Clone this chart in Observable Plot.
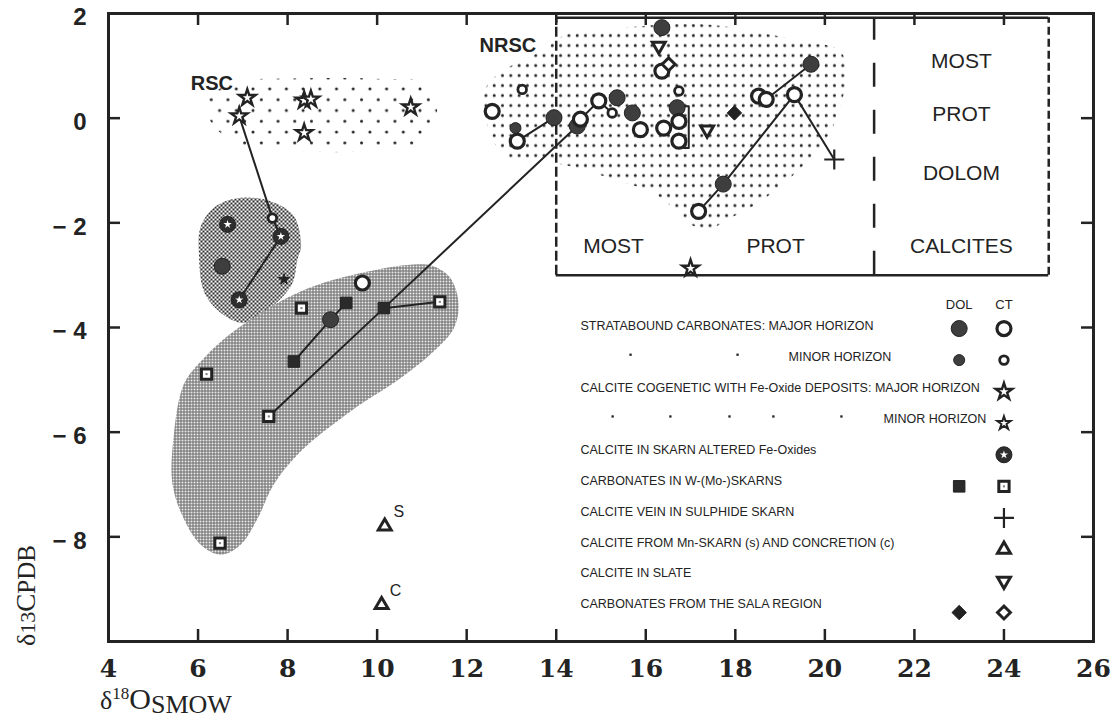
<!DOCTYPE html>
<html><head><meta charset="utf-8">
<script src="https://cdn.jsdelivr.net/npm/d3@7"></script>
<script src="https://cdn.jsdelivr.net/npm/@observablehq/plot@0.6"></script>
<style>
body{margin:0;background:#fff;}
#chart{width:1119px;height:727px;}
</style></head><body><div id="chart"></div>
<script>
// ---------- axes ----------
const xTickValues = [4,6,8,10,12,14,16,18,20,22,24,26];
const yTickValues = [2,0,-2,-4,-6,-8];
const yTickLabels = ["2","0","− 2","− 4","− 6","− 8"];

// ---------- data points (δ18O SMOW, δ13C PDB) ----------
const dolMajorX = [6.54, 8.96, 13.95, 14.47, 15.36, 15.70, 16.36, 16.70, 17.73, 19.69];
const dolMajorY = [-2.83, -3.85, 0.01, -0.15, 0.39, 0.10, 1.73, 0.20, -1.26, 1.03];
const dolMinorX = [13.09];
const dolMinorY = [-0.19];
const ctMajorX = [12.57, 13.13, 14.54, 14.95, 15.88, 16.36, 16.40, 16.74, 16.74, 18.52, 18.69, 19.32, 17.18, 9.67];
const ctMajorY = [0.13, -0.44, -0.02, 0.33, -0.22, 0.90, -0.19, -0.06, -0.44, 0.42, 0.36, 0.45, -1.78, -3.15];
const ctMinorX = [13.24, 15.25, 16.74, 7.66];
const ctMinorY = [0.55, 0.10, 0.52, -1.91];
const starMajorX = [7.10, 6.92, 8.37, 8.52, 8.37, 10.75, 17.0];
const starMajorY = [0.39, 0.04, 0.34, 0.36, -0.28, 0.21, -2.87];
const starFilledX = [7.92];
const starFilledY = [-3.08];
const skarnX = [6.66, 7.85, 6.92];
const skarnY = [-2.03, -2.26, -3.47];
const sqDolX = [8.14, 9.31, 10.15];
const sqDolY = [-4.65, -3.53, -3.63];
const sqCtX = [8.31, 6.19, 7.58, 11.40, 6.49];
const sqCtY = [-3.63, -4.89, -5.70, -3.51, -8.12];
const plusX = [20.21];
const plusY = [-0.79];
const triUpX = [10.17, 10.10];
const triUpY = [-7.80, -9.30];
const triUpLabels = ["S", "C"];
const triDownX = [16.29, 17.37];
const triDownY = [1.38, -0.22];
const diaDolX = [17.98];
const diaDolY = [0.10];
const diaCtX = [16.51];
const diaCtY = [1.03];

// tie lines between samples
const tieLinesX = [[6.92,7.66,7.85,6.92],[8.14,8.96,9.31],[7.58,10.15,14.47],[10.15,11.40],[13.13,13.95],[14.54,14.95,15.25],[18.69,19.69],[17.18,17.73,19.32,20.21],[16.85,16.96,16.96,16.85]];
const tieLinesY = [[0.04,-1.91,-2.26,-3.47],[-4.65,-3.85,-3.53],[-5.70,-3.63,-0.15],[-3.63,-3.51],[-0.44,0.01],[-0.02,0.33,0.10],[0.36,1.03],[-1.78,-1.26,0.45,-0.79],[0.23,0.23,-0.57,-0.57]];

// ---------- shaded fields ----------
const rscFieldX = [6.17,6.40,6.96,8.29,10.08,11.09,11.33,11.20,10.08,8.29,7.29,6.69,6.28];
const rscFieldY = [0.33,0.52,0.71,0.76,0.75,0.67,0.23,-0.34,-0.61,-0.63,-0.57,-0.40,-0.06];
const blobFieldX = [6.96,7.63,8.14,8.30,8.22,8.10,7.63,7.05,6.62,6.15,6.02,6.06,6.40];
const blobFieldY = [-1.52,-1.59,-1.87,-2.45,-2.70,-3.17,-3.62,-3.91,-3.79,-3.35,-2.60,-2.07,-1.68];
const skarnFieldX = [11.26,11.64,11.82,11.71,11.26,10.52,9.41,8.29,7.69,7.33,6.95,6.51,6.06,5.68,5.43,5.46,5.68,6.06,6.80,8.29,9.79,10.91];
const skarnFieldY = [-2.83,-3.06,-3.56,-4.02,-4.46,-4.97,-5.60,-6.37,-7.00,-7.65,-8.15,-8.34,-8.15,-7.65,-7.00,-6.04,-5.09,-4.65,-4.07,-3.31,-2.93,-2.79];
const nrscFieldX = [12.38,12.47,12.91,13.65,14.25,15.37,17.22,18.72,19.45,20.35,20.46,20.13,19.45,18.56,17.89,17.45,17.00,16.62,16.11,15.37,14.70,14.10,13.14,12.76,12.53];
const nrscFieldY = [0.33,0.65,0.96,1.28,1.61,1.72,1.80,1.61,1.47,1.28,0.71,-0.25,-0.96,-1.59,-1.91,-2.10,-2.03,-1.72,-1.40,-1.20,-1.01,-0.88,-0.82,-0.63,-0.31];

// ---------- annotations ----------
const fieldLabels = ["RSC", "NRSC"];
const fieldLabelX = [6.31, 12.92];
const fieldLabelY = [0.67, 1.38];
const boxLabels = ["MOST", "PROT", "CALCITES", "MOST", "PROT", "DOLOM"];
const boxLabelX = [15.28, 18.9, 23.05, 23.05, 23.05, 23.05];
const boxLabelY = [-2.45, -2.45, -2.45, 1.09, 0.08, -1.05];
const boxX = [14, 21.1, 25];
const boxY = [-3, 1.92];

// ---------- legend ----------
const legendLabels = [
  "STRATABOUND CARBONATES: MAJOR HORIZON",
  "MINOR HORIZON",
  "CALCITE COGENETIC WITH Fe-Oxide DEPOSITS: MAJOR HORIZON",
  "MINOR HORIZON",
  "CALCITE IN SKARN ALTERED Fe-Oxides",
  "CARBONATES IN W-(Mo-)SKARNS",
  "CALCITE VEIN IN SULPHIDE SKARN",
  "CALCITE FROM Mn-SKARN (s) AND CONCRETION (c)",
  "CALCITE IN SLATE",
  "CARBONATES FROM THE SALA REGION"
];
const legendDol = ["dolMajor","dolMinor",null,null,null,"sqDol",null,null,null,"diaDol"];
const legendCt = ["ctMajor","ctMinor","starMajor","starMinor","skarn","sqCt","plus","triUp","triDown","diaCt"];
const legendHeaders = ["DOL", "CT"];
const dittoRow = [1,1,3,3,3,3,3];
const dittoX = [15.66,18.05,15.26,16.55,17.87,18.85,20.37];

// ---------- build ----------
const ink = "#232323";
const W = 1119, H = 727, mL = 108, mR = 26, mT = 13, mB = 86;
const pw = W - mL - mR, ph = H - mT - mB;
const pts = (xs, ys) => xs.map((x, i) => ({x, y: ys[i]}));

function sym(kind, p) {
  const o = {x: "x", y: "y"};
  switch (kind) {
    case "dolMajor": return [Plot.dot(p, {...o, r: 8, fill: "#3e3e3e", stroke: ink, strokeWidth: 1})];
    case "dolMinor": return [Plot.dot(p, {...o, r: 5.5, fill: "#3e3e3e", stroke: ink, strokeWidth: 1})];
    case "ctMajor": return [Plot.dot(p, {...o, r: 7, fill: "#fff", stroke: ink, strokeWidth: 3.2})];
    case "ctMinor": return [Plot.dot(p, {...o, r: 4.3, fill: "#fff", stroke: ink, strokeWidth: 2.8})];
    case "starMajor": return [Plot.dot(p, {...o, symbol: "star", r: 5.2, fill: "#fff", stroke: ink, strokeWidth: 2.4})];
    case "starMinor": return [Plot.dot(p, {...o, symbol: "star", r: 4.2, fill: "#fff", stroke: ink, strokeWidth: 2})];
    case "starFilled": return [Plot.dot(p, {...o, symbol: "star", r: 3.4, fill: ink, stroke: ink, strokeWidth: 1})];
    case "skarn": return [
      Plot.dot(p, {...o, r: 8, fill: "#2e2e2e", stroke: ink, strokeWidth: 1}),
      Plot.dot(p, {...o, symbol: "star", r: 2.6, fill: "#fff", stroke: "none"})];
    case "sqDol": return [Plot.dot(p, {...o, symbol: "square", r: 6.5, fill: "#2a2a2a", stroke: ink, strokeWidth: 1})];
    case "sqCt": return [
      Plot.dot(p, {...o, symbol: "square", r: 5.8, fill: "#fff", stroke: ink, strokeWidth: 3}),
      Plot.dot(p, {...o, symbol: "square", r: 1.2, fill: "#888", stroke: "none"})];
    case "plus": return [Plot.dot(p, {...o, symbol: "plus", r: 6.5, fill: "none", stroke: ink, strokeWidth: 2.2})];
    case "triUp": return [Plot.dot(p, {...o, symbol: "triangle", r: 4.8, fill: "#fff", stroke: ink, strokeWidth: 3})];
    case "triDown": return [Plot.dot(p, {...o, symbol: "triangle", rotate: 180, r: 4.8, fill: "#fff", stroke: ink, strokeWidth: 3})];
    case "diaDol": return [Plot.dot(p, {...o, symbol: "diamond2", r: 6.5, fill: "#222", stroke: ink, strokeWidth: 1})];
    case "diaCt": return [Plot.dot(p, {...o, symbol: "diamond2", r: 5.8, fill: "#fff", stroke: ink, strokeWidth: 3})];
  }
  return [];
}

const legendSymY = i => -4.02 - 0.603 * i;
const legendTextY = i => -3.98 - 0.59 * i;
const legendTextX = i => (i === 1 ? 19.19 : i === 3 ? 21.31 : 14.54);

const legendMarks = [];
legendDol.forEach((k, i) => { if (k) legendMarks.push(...sym(k, [{x: 23, y: legendSymY(i)}])); });
legendCt.forEach((k, i) => { if (k) legendMarks.push(...sym(k, [{x: 24, y: legendSymY(i)}])); });

const tieLines = tieLinesX.flatMap((xs, k) => xs.map((x, i) => ({x, y: tieLinesY[k][i], k})));

const plot = Plot.plot({
  width: W, height: H,
  marginLeft: mL, marginRight: mR, marginTop: mT, marginBottom: mB,
  x: {domain: [4, 26], axis: null},
  y: {domain: [-10, 2], axis: null},
  style: {background: "#fff", color: ink, fontFamily: "'Liberation Sans', Arial, sans-serif", overflow: "visible"},
  marks: [
    // shaded fields
    Plot.line(pts(nrscFieldX, nrscFieldY), {x: "x", y: "y", curve: "catmull-rom-closed", fill: "url(#pNRSC)", stroke: "none"}),
    Plot.line(pts(rscFieldX, rscFieldY), {x: "x", y: "y", curve: "catmull-rom-closed", fill: "url(#pRSC)", stroke: "none"}),
    Plot.line(pts(blobFieldX, blobFieldY), {x: "x", y: "y", curve: "catmull-rom-closed", fill: "url(#pBlob)", stroke: "none"}),
    Plot.line(pts(skarnFieldX, skarnFieldY), {x: "x", y: "y", curve: "catmull-rom-closed", fill: "url(#pSkarn)", stroke: "none"}),
    // frame and inward ticks
    Plot.frame({stroke: ink, strokeWidth: 3}),
    Plot.ruleX(xTickValues.slice(1, -1), {stroke: ink, strokeWidth: 2.5, insetTop: ph - 12}),
    Plot.ruleX(xTickValues.slice(1, -1), {stroke: ink, strokeWidth: 2.5, insetBottom: ph - 12}),
    Plot.ruleY(yTickValues.slice(1), {stroke: ink, strokeWidth: 2.5, insetRight: pw - 12}),
    Plot.ruleY(yTickValues.slice(1), {stroke: ink, strokeWidth: 2.5, insetLeft: pw - 12}),
    // tick labels
    Plot.text(xTickValues, {x: d => d, y: -10, dy: 27, text: d => String(d), fontSize: 25, fontWeight: "bold", fontFamily: "'DejaVu Serif', serif", fill: ink}),
    Plot.text(yTickValues, {x: 4, y: d => d, dx: -22, dy: 4, textAnchor: "end", text: (d, i) => yTickLabels[i], fontSize: 24, fontWeight: "bold", fill: ink}),
    // interpretation box
    Plot.ruleY(boxY, {x1: 14, x2: 25, stroke: ink, strokeWidth: 2.5}),
    Plot.ruleX([boxX[0]], {y1: boxY[0], y2: boxY[1], stroke: ink, strokeWidth: 2.5, strokeDasharray: "10,4"}),
    Plot.ruleX([boxX[1]], {y1: boxY[0], y2: boxY[1], stroke: ink, strokeWidth: 2.5, strokeDasharray: "24,23"}),
    Plot.ruleX([boxX[2]], {y1: boxY[0], y2: boxY[1], stroke: ink, strokeWidth: 2.5, strokeDasharray: "8,4"}),
    Plot.text(boxLabels, {x: (d, i) => boxLabelX[i], y: (d, i) => boxLabelY[i], text: d => d, fontSize: 21, fill: ink}),
    // tie lines
    Plot.line(tieLines, {x: "x", y: "y", z: "k", stroke: ink, strokeWidth: 2}),
    // data symbols
    ...sym("dolMajor", pts(dolMajorX, dolMajorY)),
    ...sym("dolMinor", pts(dolMinorX, dolMinorY)),
    ...sym("ctMajor", pts(ctMajorX, ctMajorY)),
    ...sym("ctMinor", pts(ctMinorX, ctMinorY)),
    ...sym("starMajor", pts(starMajorX, starMajorY)),
    ...sym("starFilled", pts(starFilledX, starFilledY)),
    ...sym("skarn", pts(skarnX, skarnY)),
    ...sym("sqDol", pts(sqDolX, sqDolY)),
    ...sym("sqCt", pts(sqCtX, sqCtY)),
    ...sym("plus", pts(plusX, plusY)),
    ...sym("triUp", pts(triUpX, triUpY)),
    ...sym("triDown", pts(triDownX, triDownY)),
    ...sym("diaDol", pts(diaDolX, diaDolY)),
    ...sym("diaCt", pts(diaCtX, diaCtY)),
    Plot.text(pts(triUpX, triUpY), {x: "x", y: "y", text: (d, i) => triUpLabels[i], dx: 14, dy: -14, fontSize: 16, fill: ink}),
    // field labels
    Plot.text(fieldLabels, {x: (d, i) => fieldLabelX[i], y: (d, i) => fieldLabelY[i], text: d => d, fontSize: 20, fontWeight: "bold", fill: ink}),
    // legend
    Plot.text(legendHeaders, {x: (d, i) => 23 + i, y: -3.56, text: d => d, fontSize: 13, fill: ink}),
    Plot.text(legendLabels, {x: (d, i) => legendTextX(i), y: (d, i) => legendTextY(i), text: d => d, textAnchor: "start", fontSize: 12.5, fill: ink}),
    Plot.dot(dittoX, {x: d => d, y: (d, i) => legendTextY(dittoRow[i]) + 0.05, symbol: "square", r: 1.3, fill: ink}),
    ...legendMarks
  ]
});

document.getElementById("chart").appendChild(plot);

// patterns
const svg = d3.select(plot);
const defs = svg.insert("defs", ":first-child");
const pr = defs.append("pattern").attr("id", "pRSC").attr("patternUnits", "userSpaceOnUse").attr("width", 16.7).attr("height", 21.6);
pr.append("circle").attr("cx", 2).attr("cy", 2).attr("r", 1.5).attr("fill", ink);
pr.append("circle").attr("cx", 10.35).attr("cy", 12.8).attr("r", 1.5).attr("fill", ink);
const pn = defs.append("pattern").attr("id", "pNRSC").attr("patternUnits", "userSpaceOnUse").attr("width", 8.3).attr("height", 10);
pn.append("circle").attr("cx", 4).attr("cy", 5).attr("r", 1.5).attr("fill", ink);
const pb = defs.append("pattern").attr("id", "pBlob").attr("patternUnits", "userSpaceOnUse").attr("width", 4).attr("height", 4);
pb.append("circle").attr("cx", 1).attr("cy", 1).attr("r", 1.1).attr("fill", "#111");
pb.append("circle").attr("cx", 3).attr("cy", 3).attr("r", 1.1).attr("fill", "#111");
const ps = defs.append("pattern").attr("id", "pSkarn").attr("patternUnits", "userSpaceOnUse").attr("width", 3).attr("height", 3);
ps.append("rect").attr("width", 3).attr("height", 3).attr("fill", "#ececec");
ps.append("path").attr("d", "M0 0.5H3M0.5 0V3").attr("stroke", "#6a6a6a").attr("stroke-width", 1);

// axis titles
const xt = svg.append("text").attr("x", 100).attr("y", 709).attr("text-anchor", "start").attr("font-family", "'Liberation Serif', 'Times New Roman', serif").attr("fill", ink);
xt.append("tspan").attr("font-size", 26).text("δ");
xt.append("tspan").attr("font-size", 17).attr("dy", -10).text("18");
xt.append("tspan").attr("font-size", 30).attr("dy", 10).text("O");
xt.append("tspan").attr("font-size", 26).attr("dy", 4).text("SMOW");
const yt = svg.append("text").attr("transform", "translate(35,646) rotate(-90)").attr("text-anchor", "start").attr("font-family", "'Liberation Serif', 'Times New Roman', serif").attr("fill", ink);
yt.append("tspan").attr("font-size", 26).text("δ");
yt.append("tspan").attr("font-size", 22).text("13");
yt.append("tspan").attr("font-size", 27).text("C");
yt.append("tspan").attr("font-size", 25).text("PDB");
</script>
</body></html>
